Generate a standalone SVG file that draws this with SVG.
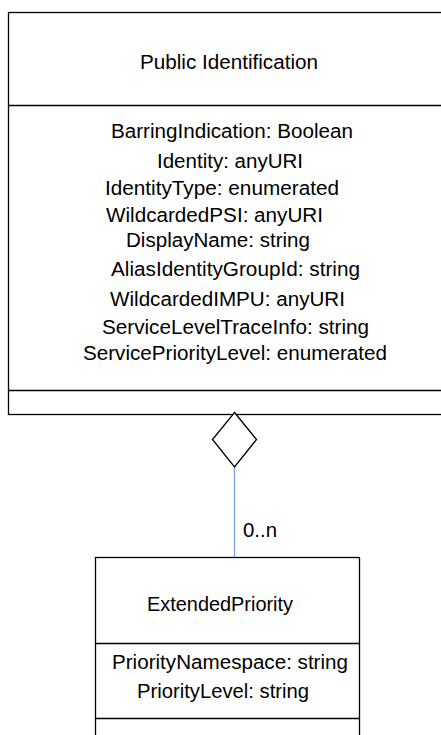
<svg xmlns="http://www.w3.org/2000/svg" width="441" height="735" viewBox="0 0 441 735">
<style>
.box{fill:#fff;stroke:#000;stroke-width:1.3}
.ln{stroke:#000;stroke-width:1.3;fill:none}
.t{font-family:"Liberation Sans",Arial,sans-serif;font-size:20px;fill:#000}
.conn{stroke:#7aa3d9;stroke-width:1.3;fill:none}
</style>
<g id="public-identification">
<rect class="box" x="8.5" y="12.5" width="440" height="402"/>
<line class="ln" x1="8.5" y1="105.5" x2="441" y2="105.5"/>
<line class="ln" x1="8.5" y1="390.5" x2="441" y2="390.5"/>
<text class="t" x="140" y="69" textLength="178" lengthAdjust="spacingAndGlyphs">Public Identification</text>
<text class="t" x="111" y="138" textLength="242" lengthAdjust="spacingAndGlyphs">BarringIndication: Boolean</text>
<text class="t" x="157" y="168" textLength="146" lengthAdjust="spacingAndGlyphs">Identity: anyURI</text>
<text class="t" x="105" y="195" textLength="234" lengthAdjust="spacingAndGlyphs">IdentityType: enumerated</text>
<text class="t" x="106" y="222" textLength="217" lengthAdjust="spacingAndGlyphs">WildcardedPSI: anyURI</text>
<text class="t" x="126" y="247" textLength="184" lengthAdjust="spacingAndGlyphs">DisplayName: string</text>
<text class="t" x="111" y="276" textLength="249" lengthAdjust="spacingAndGlyphs">AliasIdentityGroupId: string</text>
<text class="t" x="110" y="306" textLength="235" lengthAdjust="spacingAndGlyphs">WildcardedIMPU: anyURI</text>
<text class="t" x="102" y="334" textLength="267" lengthAdjust="spacingAndGlyphs">ServiceLevelTraceInfo: string</text>
<text class="t" x="83" y="360" textLength="304" lengthAdjust="spacingAndGlyphs">ServicePriorityLevel: enumerated</text>
</g>
<g id="connectors">
<line class="conn" x1="234.5" y1="467" x2="234.5" y2="557"/>
<polygon class="box" points="234.5,412.5 256.5,439.5 234.5,467 212.5,439.5"/>
<text class="t" x="243" y="537" textLength="34" lengthAdjust="spacingAndGlyphs">0..n</text>
</g>
<g id="extended-priority">
<rect class="box" x="95.5" y="557.5" width="264" height="190"/>
<line class="ln" x1="95.5" y1="643.5" x2="359.5" y2="643.5"/>
<line class="ln" x1="95.5" y1="718.5" x2="359.5" y2="718.5"/>
<text class="t" x="147" y="611" textLength="146" lengthAdjust="spacingAndGlyphs">ExtendedPriority</text>
<text class="t" x="112" y="669" textLength="236" lengthAdjust="spacingAndGlyphs">PriorityNamespace: string</text>
<text class="t" x="137" y="698" textLength="172" lengthAdjust="spacingAndGlyphs">PriorityLevel: string</text>
</g>
</svg>
